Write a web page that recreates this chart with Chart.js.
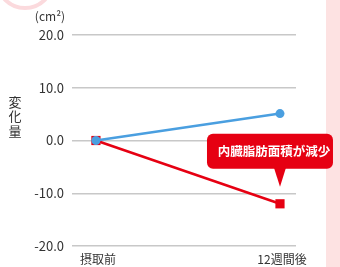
<!DOCTYPE html>
<html>
<head>
<meta charset="utf-8">
<script src="https://cdn.jsdelivr.net/npm/chart.js@4"></script>
<style>
  html, body { margin: 0; padding: 0; background: #fff; }
  canvas { display: block; }
</style>
</head>
<body>
<canvas id="chart" width="340" height="267"></canvas>
<script>
// chart values
const categories = ['摂取前', '12週間後'];
const blueValues = [0, 5.1];
const redValues = [0, -12.0];
const yTicks = [-20, -10, 0, 10, 20];
const calloutText = '内臓脂肪面積が減少';
const unitText = '(cm²)';
const yTitle = ['変', '化', '量'];

const FONT = "'Noto Sans CJK JP', 'Noto Sans', sans-serif";
const BLUE = '#4a9fe0';
const RED = '#e60012';

function toPoints(values) {
    return values.map((v, i) => ({ x: i, y: v }));
}

// background decorations (pink band, faint arc)
const backdrop = {
    id: 'backdrop',
    beforeDraw(chart) {
        const ctx = chart.ctx;
        ctx.save();
        ctx.fillStyle = '#fde2e2';
        ctx.fillRect(326, 0, 14, chart.height);
        ctx.strokeStyle = '#fbdadd';
        ctx.lineWidth = 4;
        ctx.beginPath();
        ctx.arc(25, -20, 28, 0, Math.PI);
        ctx.stroke();
        ctx.restore();
    }
};

// axis captions drawn as text
const captions = {
    id: 'captions',
    afterDraw(chart) {
        const ctx = chart.ctx;
        ctx.save();
        ctx.fillStyle = '#333';
        ctx.font = '12px ' + FONT;
        ctx.textAlign = 'center';
        ctx.textBaseline = 'middle';
        ctx.fillText(unitText, 50, 16);
        ctx.font = '13px ' + FONT;
        yTitle.forEach((ch, i) => ctx.fillText(ch, 15, 102 + i * 14.5));
        ctx.restore();
    }
};

// red callout pointing at the last red point
const callout = {
    id: 'callout',
    afterDatasetsDraw(chart) {
        const pt = chart.getDatasetMeta(1).data[1];
        if (!pt) return;
        const ctx = chart.ctx;
        const tipY = pt.y - 17;
        const baseY = tipY - 18;
        const left = pt.x - 73, right = pt.x + 53;
        const top = baseY - 35;
        ctx.save();
        ctx.fillStyle = RED;
        ctx.beginPath();
        ctx.roundRect(left, top, right - left, baseY - top, 6);
        ctx.fill();
        ctx.beginPath();
        ctx.moveTo(pt.x - 6, baseY - 1);
        ctx.lineTo(pt.x + 6, baseY - 1);
        ctx.lineTo(pt.x, tipY);
        ctx.closePath();
        ctx.fill();
        ctx.fillStyle = '#fff';
        ctx.font = 'bold 12.5px ' + FONT;
        ctx.textAlign = 'center';
        ctx.textBaseline = 'middle';
        ctx.fillText(calloutText, (left + right) / 2 + 4, top + 17);
        ctx.restore();
    }
};

new Chart(document.getElementById('chart'), {
    type: 'line',
    data: {
        datasets: [{
            data: toPoints(blueValues),
            borderColor: BLUE,
            backgroundColor: BLUE,
            borderWidth: 2.5,
            pointRadius: 4.5,
            pointBorderWidth: 0,
            pointStyle: 'circle'
        }, {
            data: toPoints(redValues),
            borderColor: RED,
            backgroundColor: RED,
            borderWidth: 2.5,
            pointRadius: 6.5,
            pointBorderWidth: 0,
            pointStyle: 'rect'
        }]
    },
    options: {
        responsive: false,
        animation: false,
        layout: { padding: { left: 0, right: 44, top: 35, bottom: 0 } },
        plugins: {
            legend: { display: false },
            tooltip: { enabled: false }
        },
        scales: {
            x: {
                type: 'linear',
                min: -0.13,
                max: 1.087,
                afterBuildTicks: s => { s.ticks = categories.map((c, i) => ({ value: i })); },
                afterFit: s => { s.height = 21; },
                grid: { display: false },
                border: { display: false },
                ticks: {
                    callback: v => categories[v],
                    color: '#333',
                    padding: -2,
                    labelOffset: 2,
                    maxRotation: 0,
                    font: { family: FONT, size: 12 }
                }
            },
            y: {
                min: yTicks[0],
                max: yTicks[yTicks.length - 1],
                afterBuildTicks: s => { s.ticks = yTicks.map(v => ({ value: v })); },
                afterFit: s => { s.width = 72; },
                grid: { color: '#c8c8c8', lineWidth: 1.5, drawTicks: false },
                border: { display: false },
                ticks: {
                    callback: v => v.toFixed(1),
                    color: '#333',
                    padding: 8,
                    font: { family: FONT, size: 13 }
                }
            }
        }
    },
    plugins: [backdrop, captions, callout]
});
</script>
</body>
</html>
